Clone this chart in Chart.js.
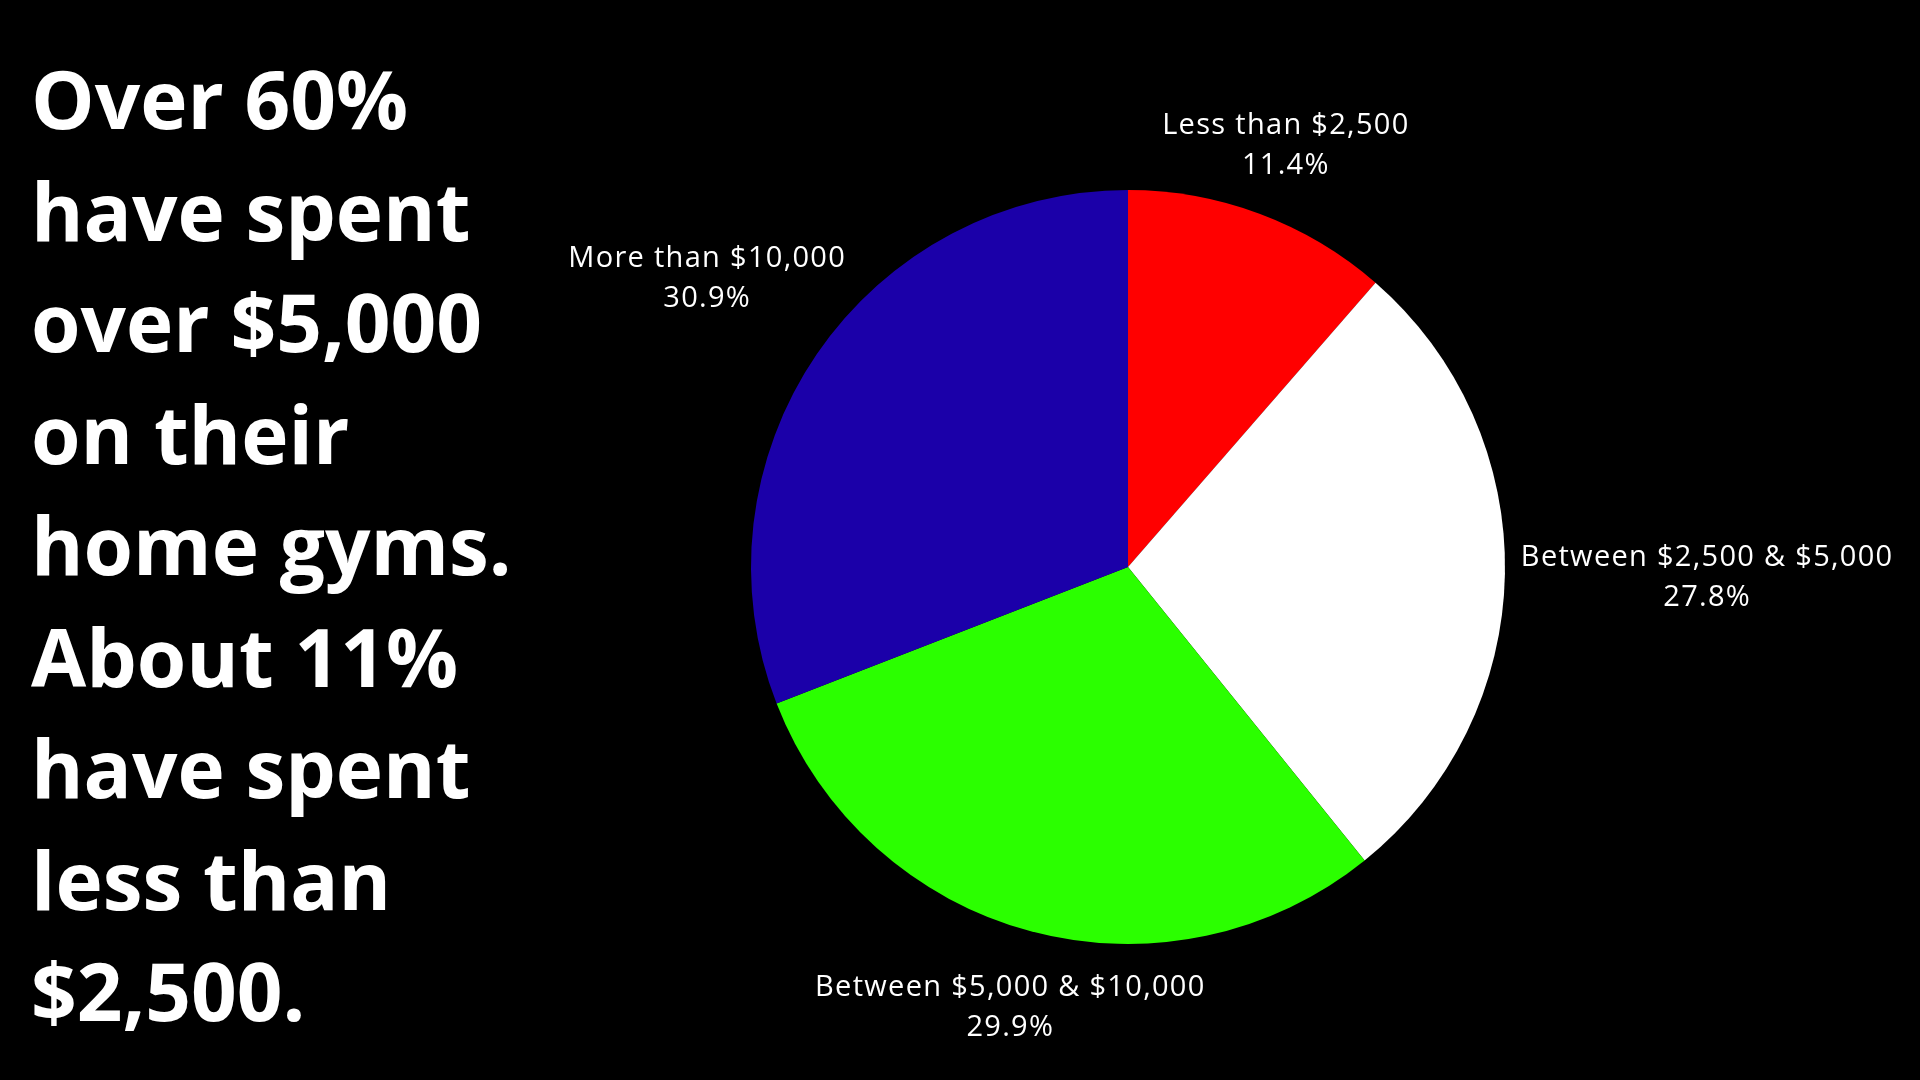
<!DOCTYPE html>
<html>
<head>
<meta charset="utf-8">
<script src="https://cdn.jsdelivr.net/npm/chart.js@4.4.1/dist/chart.umd.min.js"></script>
<style>
    html, body { margin: 0; padding: 0; background: #000; }
    #wrap { position: relative; width: 1920px; height: 1080px; background: #000; overflow: hidden; }
    #chart { position: absolute; left: 0; top: 0; }
    #headline {
        position: absolute;
        left: 31px;
        top: 42px;
        color: #fff;
        font-family: "Open Sans", sans-serif;
        font-weight: 700;
        font-size: 80px;
        line-height: 111.5px;
        letter-spacing: 0px;
        white-space: nowrap;
    }
</style>
</head>
<body>
<div id="wrap">
    <canvas id="chart" width="1920" height="1080"></canvas>
    <div id="headline">Over 60%<br>have spent<br>over $5,000<br>on their<br>home gyms.<br>About 11%<br>have spent<br>less than<br>$2,500.</div>
</div>
<script>
// 데이터
const categories = ['Less than $2,500', 'Between $2,500 & $5,000', 'Between $5,000 & $10,000', 'More than $10,000'];
const shares = [11.4, 27.8, 29.9, 30.9];
const sliceColors = ['#ff0000', '#ffffff', '#2bff00', '#1b00a9'];

/**
 * 조각 바깥쪽에 라벨 + 퍼센트 그리기
 */
const outerLabels = {
    id: 'outerLabels',
    afterDraw(chart) {
        const ctx = chart.ctx;
        const meta = chart.getDatasetMeta(0);
        const gap = 16;
        const lineH = 40;
        ctx.save();
        ctx.fillStyle = '#ffffff';
        ctx.font = '400 29px "Open Sans", sans-serif';
        ctx.letterSpacing = '1.3px';
        ctx.textAlign = 'center';
        ctx.textBaseline = 'middle';

        meta.data.forEach((arc, i) => {
            const { x, y, startAngle, endAngle, outerRadius } = arc.getProps(['x', 'y', 'startAngle', 'endAngle', 'outerRadius'], true);
            const mid = (startAngle + endAngle) / 2;
            const dx = Math.cos(mid);
            const dy = Math.sin(mid);
            const lines = [chart.data.labels[i], shares[i].toFixed(1) + '%'];
            const w = Math.max(...lines.map(t => ctx.measureText(t).width));
            const h = lineH * lines.length;
            // 라벨 박스 크기만큼 바깥으로 밀기
            const t = Math.hypot((w / 2) * dx, (h / 2) * dy);
            const d = outerRadius + gap + t;
            const cx = x + dx * d;
            const cy = y + dy * d;
            lines.forEach((txt, k) => {
                ctx.fillText(txt, cx, cy - h / 2 + lineH * (k + 0.5));
            });
        });
        ctx.restore();
    }
};

const ctx = document.getElementById('chart').getContext('2d');
new Chart(ctx, {
    type: 'pie',
    data: {
        labels: categories,
        datasets: [{
            data: shares,
            backgroundColor: sliceColors,
            borderWidth: 0
        }]
    },
    options: {
        responsive: false,
        animation: false,
        layout: {
            padding: { left: 751, right: 415, top: 190, bottom: 136 }
        },
        plugins: {
            legend: { display: false },
            tooltip: { enabled: false }
        }
    },
    plugins: [outerLabels]
});
</script>
</body>
</html>
